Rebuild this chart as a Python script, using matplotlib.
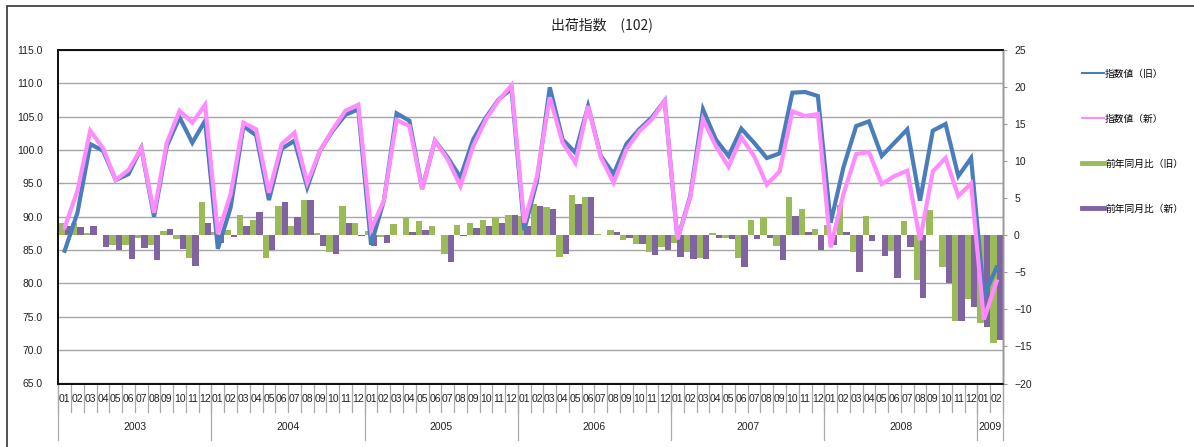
import matplotlib
matplotlib.use("Agg")
import matplotlib.pyplot as plt
from matplotlib.lines import Line2D
from matplotlib.patches import Rectangle
import numpy as np

plt.rcParams['font.family'] = ['Liberation Sans', 'Noto Sans CJK JP', 'DejaVu Sans']

title = "出荷指数　(102)"
years = ["2003", "2004", "2005", "2006", "2007", "2008", "2009"]
year_months = [12, 12, 12, 12, 12, 12, 2]
month_labels = [f"{m:02d}" for n in year_months for m in range(1, n + 1)]

index_old = [84.9, 90.6, 100.9, 99.9, 95.5, 96.4, 100.3, 90.0, 100.6, 104.9, 101.1, 104.4,
             85.2, 91.4, 103.6, 102.2, 92.5, 100.2, 101.4, 94.4, 99.9, 102.9, 105.3, 106.1,
             85.8, 92.4, 105.5, 104.4, 94.2, 101.4, 98.9, 95.9, 101.6, 104.9, 107.6, 109.2,
             88.0, 95.4, 109.4, 101.6, 99.6, 106.6, 99.1, 96.4, 100.9, 103.1, 104.9, 107.4,
             86.6, 93.1, 106.1, 101.6, 99.1, 103.2, 101.1, 98.8, 99.5, 108.6, 108.7, 108.1,
             89.1, 97.4, 103.6, 104.3, 99.1, 101.1, 103.1, 92.4, 102.9, 103.9, 96.1, 98.8,
             78.1, 82.4]
index_new = [88.4, 93.9, 102.9, 100.3, 95.5, 97.0, 100.3, 90.6, 101.1, 105.9, 104.1, 106.8,
             87.4, 93.4, 104.1, 103.1, 93.6, 100.9, 102.6, 95.1, 99.9, 103.1, 105.9, 106.8,
             88.1, 92.4, 104.5, 103.6, 94.1, 101.4, 98.6, 94.6, 100.6, 104.6, 107.5, 109.7,
             89.1, 96.1, 107.9, 101.1, 98.1, 106.6, 98.9, 95.1, 100.1, 102.8, 104.6, 107.4,
             86.6, 92.9, 104.6, 100.6, 97.5, 101.9, 99.1, 94.8, 96.8, 105.8, 105.1, 105.4,
             85.4, 93.4, 99.4, 99.7, 94.9, 96.1, 96.9, 86.5, 96.8, 98.8, 93.1, 95.0,
             74.6, 80.3]
yoy_old = [1.6, 1.6, 0.3, 0.1, -1.3, -1.3, -0.4, -1.3, 0.6, -0.5, -3.1, 4.5,
           0.5, 0.7, 2.8, 2.1, -3.1, 3.9, 1.2, 4.7, 0.3, -2.3, 3.9, 1.6,
           0.6, -0.2, 1.5, 2.4, 1.9, 1.2, -2.5, 1.4, 1.7, 2.0, 2.4, 2.8,
           2.6, 4.2, 3.8, -2.9, 5.4, 5.2, 0.2, 0.7, -0.7, -1.2, -2.3, -1.6,
           -1.1, -2.2, -3.1, 0.3, -0.3, -3.1, 2.0, 2.5, -1.4, 5.2, 3.6, 0.8,
           1.4, 4.1, -2.3, 2.6, 0.1, -2.0, 1.9, -6.0, 3.4, -4.3, -11.5, -8.6,
           -11.8, -14.5]
yoy_new = [1.2, 1.1, 1.3, -1.6, -2.0, -3.2, -1.7, -3.4, 0.9, -1.9, -4.2, 1.7,
           -1.1, -0.2, 1.2, 3.1, -2.0, 4.5, 2.5, 4.7, -1.4, -2.5, 1.7, -0.1,
           -1.5, -1.1, 0.1, 0.4, 0.7, 0.1, -3.6, -0.1, 1.0, 1.3, 1.6, 2.8,
           1.3, 4.0, 3.5, -2.5, 4.2, 5.2, 0.1, 0.5, -0.3, -1.2, -2.6, -2.0,
           -2.9, -3.2, -3.2, -0.4, -0.5, -4.3, -0.5, -0.3, -3.3, 2.6, 0.4, -2.0,
           -1.3, 0.4, -5.0, -0.8, -2.8, -5.8, -1.6, -8.4, 0.0, -6.5, -11.5, -9.7,
           -12.4, -14.1]
labels = ["指数値（旧）", "指数値（新）", "前年同月比（旧）", "前年同月比（新）"]

c_blue = "#4a7ebb"
c_pink = "#ff8cff"
c_green = "#9bbb59"
c_purple = "#8064a2"

n = len(month_labels)
x = np.arange(n)

W, H = 1194, 447
fig = plt.figure(figsize=(W / 100, H / 100), dpi=100)
rect = [58.3 / W, 1 - 383.5 / H, (1003 - 58.3) / W, (383.5 - 50) / H]

ax = fig.add_axes(rect)          # left scale, grid
ax.set_xlim(0, n)
ax.set_ylim(65, 115)
ax.set_yticks(np.arange(65, 116, 5))
ax.set_yticklabels([f"{v:.1f}" for v in np.arange(65, 116, 5)])
ax.yaxis.grid(True, color="#a6a6a6", lw=1.0)
ax.set_axisbelow(True)
ax.tick_params(axis='y', length=0, pad=11, labelsize=7.5, colors="#222")
ax.set_xticks([])

axr = ax.twinx()                 # right scale, bars
axr.set_ylim(-20, 25)
axr.set_yticks(np.arange(-20, 26, 5))
axr.tick_params(axis='y', length=3, width=0.8, color="#999", pad=5, labelsize=7.5, labelcolor="#222")
axr.bar(x + 0.25, yoy_old, width=0.5, color=c_green, label=labels[2])
axr.bar(x + 0.75, yoy_new, width=0.5, color=c_purple, label=labels[3])
axr.set_xlim(0, n)

axl = ax.twinx()                 # lines on top, left scale
axl.set_ylim(65, 115)
axl.set_yticks([])
axl.set_xlim(0, n)
axl.plot(x + 0.5, index_old, color=c_blue, lw=3.0, solid_joinstyle='miter')
axl.plot(x + 0.5, index_new, color=c_pink, lw=3.0, solid_joinstyle='miter')

for a in (ax, axr, axl):
    for s in ('left', 'top', 'bottom'):
        a.spines[s].set_color("#111")
        a.spines[s].set_linewidth(1.2)
    a.spines['right'].set_color("#999")
    a.spines['right'].set_linewidth(1.0)

# x-axis category labels
trans = ax.get_xaxis_transform()
for i in range(n + 1):
    ax.plot([i, i], [0, -0.085], transform=trans, color="#aaa", lw=0.9, clip_on=False)
for i, lab in enumerate(month_labels):
    ax.text(i + 0.5, -0.045, lab, transform=trans, ha='center', va='center', fontsize=7.5, color="#222")
start = 0
for yr, cnt in zip(years, year_months):
    ax.plot([start, start], [0, -0.168], transform=trans, color="#aaa", lw=0.9, clip_on=False)
    ax.text(start + cnt / 2, -0.129, yr, transform=trans, ha='center', va='center', fontsize=7.5, color="#222")
    start += cnt
ax.plot([start, start], [0, -0.168], transform=trans, color="#aaa", lw=0.9, clip_on=False)

fig.text(602 / W, 1 - 25 / H, title, ha='center', va='center', fontsize=10,
         family=['Noto Sans CJK JP', 'DejaVu Sans'], color="#222")

handles = [Line2D([], [], color=c_blue, lw=1.5),
           Line2D([], [], color=c_pink, lw=1.5),
           Line2D([], [], color=c_green, lw=3.5),
           Line2D([], [], color=c_purple, lw=3.5)]
fig.legend(handles, labels, loc='upper left', bbox_to_anchor=(1073 / W, 1 - 60 / H),
           frameon=False, fontsize=7, labelspacing=3.6, handlelength=2.3, handletextpad=0.1,
           prop={'family': ['Noto Sans CJK JP'], 'size': 7})

fig.add_artist(Rectangle((7 / W, -0.1), 2, 1 - 6 / H + 0.1, transform=fig.transFigure,
                         fill=False, ec="#333", lw=1.2))

fig.savefig("out.png", dpi=100, facecolor="white")
